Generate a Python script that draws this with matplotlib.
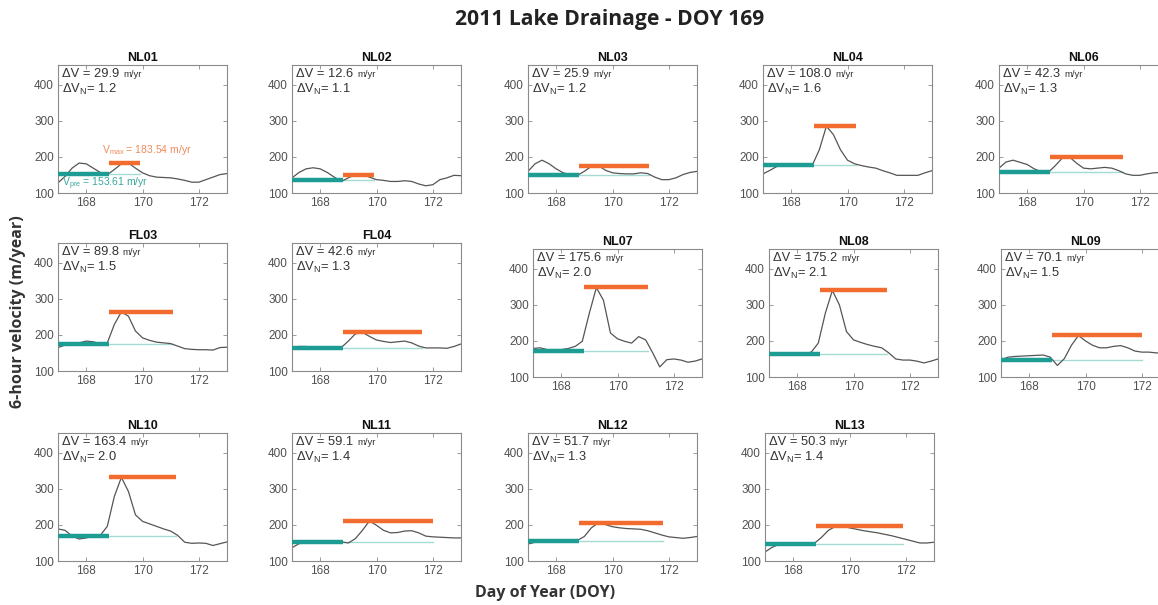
import matplotlib
matplotlib.use("Agg")
import matplotlib.pyplot as plt

plt.rcParams['font.family'] = ['Liberation Sans', 'DejaVu Sans']
plt.rcParams['mathtext.fontset'] = 'custom'
plt.rcParams['mathtext.rm'] = 'Liberation Sans'
plt.rcParams['mathtext.it'] = 'Liberation Sans:italic'
plt.rcParams['mathtext.bf'] = 'Liberation Sans:bold'

# ---------------- data ----------------
doy = [167.0, 167.25, 167.5, 167.75, 168.0, 168.25, 168.5, 168.75, 169.0, 169.25,
       169.5, 169.75, 170.0, 170.25, 170.5, 170.75, 171.0, 171.25, 171.5, 171.75,
       172.0, 172.25, 172.5, 172.75, 173.0]

vel_NL01 = [128, 146, 169, 183, 181, 169, 157, 151, 165, 181, 183, 169, 156, 148, 144, 143, 142, 139, 135, 130, 130, 137, 144, 151, 154]
vel_NL02 = [142, 157, 167, 170, 167, 157, 144, 132, 142, 151, 151, 144, 137, 135, 132, 132, 134, 132, 125, 120, 123, 137, 142, 149, 148]
vel_NL03 = [160, 181, 191, 181, 167, 156, 151, 149, 160, 174, 176, 163, 156, 154, 153, 153, 156, 154, 144, 137, 137, 142, 151, 157, 160]
vel_NL04 = [153, 163, 174, 179, 181, 179, 176, 177, 220, 285, 262, 220, 191, 181, 176, 172, 169, 162, 156, 149, 149, 149, 149, 156, 162]
vel_NL06 = [169, 186, 191, 185, 179, 167, 159, 157, 176, 197, 200, 183, 169, 167, 169, 171, 169, 162, 153, 149, 149, 153, 156, 157, 160]
vel_FL03 = [165, 172, 174, 178, 183, 181, 176, 178, 229, 264, 252, 211, 192, 185, 180, 178, 176, 169, 162, 160, 159, 159, 158, 165, 166]
vel_FL04 = [164, 168, 168, 165, 164, 164, 163, 165, 183, 203, 207, 196, 186, 182, 179, 181, 183, 178, 169, 164, 164, 164, 163, 168, 175]
vel_NL07 = [179, 181, 176, 176, 176, 179, 185, 199, 277, 348, 313, 222, 206, 199, 194, 212, 203, 167, 128, 148, 150, 147, 141, 144, 150]
vel_NL08 = [165, 165, 165, 165, 165, 165, 169, 194, 277, 340, 300, 226, 203, 196, 190, 185, 181, 167, 150, 147, 147, 144, 139, 144, 150]
vel_NL09 = [148, 155, 157, 158, 159, 160, 161, 155, 132, 151, 188, 215, 200, 188, 181, 181, 185, 187, 181, 172, 169, 169, 167, 166, 166]
vel_NL10 = [189, 185, 169, 161, 164, 169, 171, 196, 279, 332, 293, 228, 210, 203, 196, 189, 183, 171, 152, 149, 150, 149, 143, 148, 153]
vel_NL11 = [137, 148, 153, 156, 156, 156, 155, 153, 150, 162, 185, 211, 199, 185, 178, 179, 183, 184, 178, 169, 167, 166, 165, 164, 164]
vel_NL12 = [147, 152, 156, 157, 157, 156, 156, 157, 168, 192, 206, 201, 195, 192, 190, 189, 188, 184, 178, 172, 167, 165, 163, 165, 168]
vel_NL13 = [125, 138, 146, 147, 147, 146, 146, 149, 165, 185, 196, 197, 192, 188, 184, 181, 178, 174, 170, 165, 160, 155, 150, 150, 152]

stations = ['NL01', 'NL02', 'NL03', 'NL04', 'NL06',
            'FL03', 'FL04', 'NL07', 'NL08', 'NL09',
            'NL10', 'NL11', 'NL12', 'NL13']
delta_v = [29.9, 12.6, 25.9, 108.0, 42.3, 89.8, 42.6, 175.6, 175.2, 70.1, 163.4, 59.1, 51.7, 50.3]
delta_vn = [1.2, 1.1, 1.2, 1.6, 1.3, 1.5, 1.3, 2.0, 2.1, 1.5, 2.0, 1.4, 1.3, 1.4]
v_pre = [153.61, 137.0, 149.0, 177.0, 157.0, 174.0, 165.0, 173.0, 165.0, 146.0, 169.0, 153.0, 155.0, 147.0]
v_max = [183.54, 149.6, 174.9, 285.0, 199.3, 263.8, 207.6, 348.6, 340.2, 216.1, 332.4, 212.1, 206.7, 197.3]
drain_doy = 168.8
post_end = [169.9, 169.9, 171.28, 170.3, 171.4, 171.07, 171.6, 171.1, 171.2, 172.0, 171.2, 172.0, 171.8, 171.9]

velocity = {'NL01': vel_NL01, 'NL02': vel_NL02, 'NL03': vel_NL03, 'NL04': vel_NL04,
            'NL06': vel_NL06, 'FL03': vel_FL03, 'FL04': vel_FL04, 'NL07': vel_NL07,
            'NL08': vel_NL08, 'NL09': vel_NL09, 'NL10': vel_NL10, 'NL11': vel_NL11,
            'NL12': vel_NL12, 'NL13': vel_NL13}

# ---------------- layout (pixels: left, top) ----------------
W, H = 1158, 605
AW, AH = 169, 128
pos_px = [(58, 65), (292, 65), (528, 65), (763, 65), (999, 65),
          (58, 243), (292, 243), (533, 249), (769, 249), (1001, 249),
          (58, 433), (292, 433), (528, 433), (765, 433)]

TEAL = '#1c9c92'
TEAL_LIGHT = '#a6dbd3'
ORANGE = '#f26c30'
CURVE = '#555555'
SPINE = '#8a8a8a'
TXT = '#333333'

fig = plt.figure(figsize=(W / 100, H / 100), dpi=100)

for i, name in enumerate(stations):
    l, t = pos_px[i]
    ax = fig.add_axes([l / W, (H - t - AH) / H, AW / W, AH / H])
    ax.plot(doy, velocity[name], color=CURVE, lw=0.9, zorder=2)
    ax.plot([drain_doy, post_end[i]], [v_pre[i], v_pre[i]], color=TEAL_LIGHT, lw=1.0, zorder=1)
    ax.plot([doy[0], drain_doy], [v_pre[i], v_pre[i]], color=TEAL, lw=3.2, zorder=3,
            solid_capstyle='butt')
    ax.plot([drain_doy, post_end[i]], [v_max[i], v_max[i]], color=ORANGE, lw=3.2, zorder=3,
            solid_capstyle='butt')
    ax.set_xlim(167, 173)
    ax.set_ylim(100, 455)
    ax.set_xticks([168, 170, 172])
    ax.set_yticks([100, 200, 300, 400])
    ax.tick_params(direction='in', length=3, width=0.6, colors=SPINE, labelcolor='#505050',
                   labelsize=8.5, top=True, right=True, pad=3)
    for s in ax.spines.values():
        s.set_color(SPINE)
        s.set_linewidth(0.8)
    ax.set_title(name, fontsize=9, fontweight='bold', color='#111111', pad=3)
    t1 = ax.text(0.025, 0.975, u'\u0394V = %.1f ' % delta_v[i], transform=ax.transAxes,
                 fontsize=9.3, color=TXT, va='top', ha='left')
    ax.annotate('m/yr', xy=(1, 0.12), xycoords=t1, fontsize=6.8, color=TXT,
                va='bottom', ha='left')
    ax.text(0.025, 0.865, u'\u0394V$_{\\mathrm{N}}$= %.1f' % delta_vn[i], transform=ax.transAxes,
            fontsize=9.3, color=TXT, va='top', ha='left')
    if name == 'NL01':
        ax.text(168.55, 220, r'V$_{\mathrm{max}}$ = %.2f m/yr' % v_max[i], fontsize=7.5,
                color='#f08a5a', va='center', ha='left')
        ax.text(167.15, 126, r'V$_{\mathrm{pre}}$ = %.2f m/yr' % v_pre[i], fontsize=7.5,
                color='#3aa89e', va='center', ha='left')

fig.text(610 / W, 1 - 20 / H, '2011 Lake Drainage - DOY 169', fontsize=15.2, fontweight='bold',
         family=['Open Sans', 'DejaVu Sans'], ha='center', va='center', color='#222222')
fig.text(18 / W, 1 - 312 / H, '6-hour velocity (m/year)', fontsize=11.5, fontweight='bold',
         family=['Open Sans', 'DejaVu Sans'], rotation=90, ha='center', va='center', color='#333333')
fig.text(545 / W, 1 - 593 / H, 'Day of Year (DOY)', fontsize=11.5, fontweight='bold',
         family=['Open Sans', 'DejaVu Sans'], ha='center', va='center', color='#333333')

fig.savefig('out.png', dpi=100)
